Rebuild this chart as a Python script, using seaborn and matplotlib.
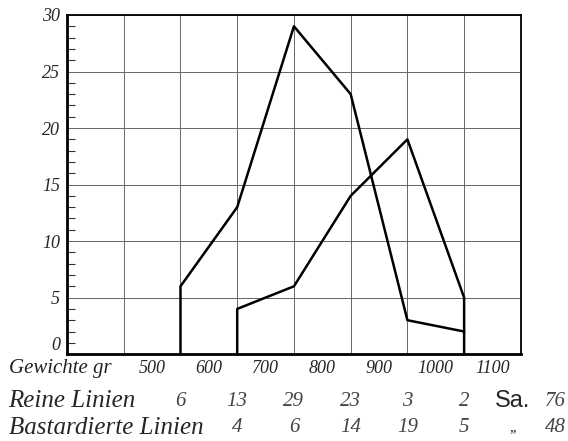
import matplotlib
matplotlib.use("Agg")
import matplotlib.pyplot as plt
import seaborn as sns
import pandas as pd
import numpy as np

# Gewichtsklassen (Mitte der Klasse liegt auf der Gitterlinie)
weights = [550, 650, 750, 850, 950, 1050]
reine = [6, 13, 29, 23, 3, 2]
bastard_weights = [650, 750, 850, 950, 1050]
bastard = [4, 6, 14, 19, 5]
x_labels = [500, 600, 700, 800, 900, 1000, 1100]
y_labels = [0, 5, 10, 15, 20, 25, 30]

sns.set_theme(style="white")
plt.rcParams['font.family'] = ['Liberation Serif', 'DejaVu Serif']

fig = plt.figure(figsize=(5.68, 4.41), dpi=100)
ax = fig.add_axes([0.118, 0.197, 0.799, 0.769])

# polygon lines, closed to the base line at their ends
df_r = pd.DataFrame({'x': [weights[0]] + weights,
                     'y': [0] + reine, 'serie': 'Reine Linien'})
df_b = pd.DataFrame({'x': [bastard_weights[0]] + bastard_weights + [bastard_weights[-1]],
                     'y': [0] + bastard + [0], 'serie': 'Bastardierte Linien'})
for d in (df_r, df_b):
    sns.lineplot(data=d, x='x', y='y', sort=False, color='black',
                 linewidth=1.8, ax=ax, legend=False, estimator=None)

ax.set_xlim(350, 1150)
ax.set_ylim(0, 30)

# grid every 100 gr / 5 units
ax.set_xticks(np.arange(350, 1151, 100), minor=True)
ax.set_xticks(x_labels)
ax.set_xticklabels([str(v) for v in x_labels], style='italic', fontsize=13)
ax.set_yticks(y_labels)
ylabs = ax.set_yticklabels([str(v) for v in y_labels], style='italic', fontsize=13)
# the zero sits just above the weight label
ylabs[0].set_va('bottom')
ax.set_yticks(np.arange(0, 31, 1), minor=True)
ax.grid(False)
ax.grid(which='minor', axis='x', color='#666666', linewidth=0.7)
ax.grid(which='major', axis='y', color='#666666', linewidth=0.7)
ax.tick_params(axis='x', which='both', length=0, pad=4)
ax.tick_params(axis='y', which='major', length=0, pad=5)
ax.tick_params(axis='y', which='minor', direction='in', length=6, width=0.8,
               color='#333333', left=True)
ax.set_xlabel('')
ax.set_ylabel('')

for side in ['left', 'bottom']:
    ax.spines[side].set_linewidth(2)
    ax.spines[side].set_color('black')
for side in ['top', 'right']:
    ax.spines[side].set_linewidth(1.3)
    ax.spines[side].set_color('black')

# label of the weight axis
fig.text(0.015, 1 - 369 / 441, 'Gewichte gr', fontsize=15, style='italic',
         va='center', ha='left', color='#222222')

# table of counts below the chart
row_y = [1 - 401 / 441, 1 - 428 / 441]
fig.text(0.015, row_y[0], 'Reine Linien', fontsize=18, style='italic', va='center')
fig.text(0.015, row_y[1], 'Bastardierte Linien', fontsize=18, style='italic', va='center')
trans = matplotlib.transforms.blended_transform_factory(ax.transData, fig.transFigure)
for xv, v in zip(weights, reine):
    ax.text(xv, row_y[0], str(v), transform=trans, fontsize=15,
            style='italic', ha='center', va='center', color='#444444')
for xv, v in zip(bastard_weights, bastard):
    ax.text(xv, row_y[1], str(v), transform=trans, fontsize=15,
            style='italic', ha='center', va='center', color='#444444')
fig.text(0.903, row_y[0], 'Sa.', fontsize=17, family='Liberation Sans',
         ha='center', va='center')
fig.text(0.978, row_y[0], str(sum(reine)), fontsize=15, style='italic',
         ha='center', va='center', color='#444444')
fig.text(0.903, row_y[1], ',,', fontsize=11, ha='center', va='center')
fig.text(0.978, row_y[1], str(sum(bastard)), fontsize=15, style='italic',
         ha='center', va='center', color='#444444')

fig.savefig('out.png', dpi=100)
